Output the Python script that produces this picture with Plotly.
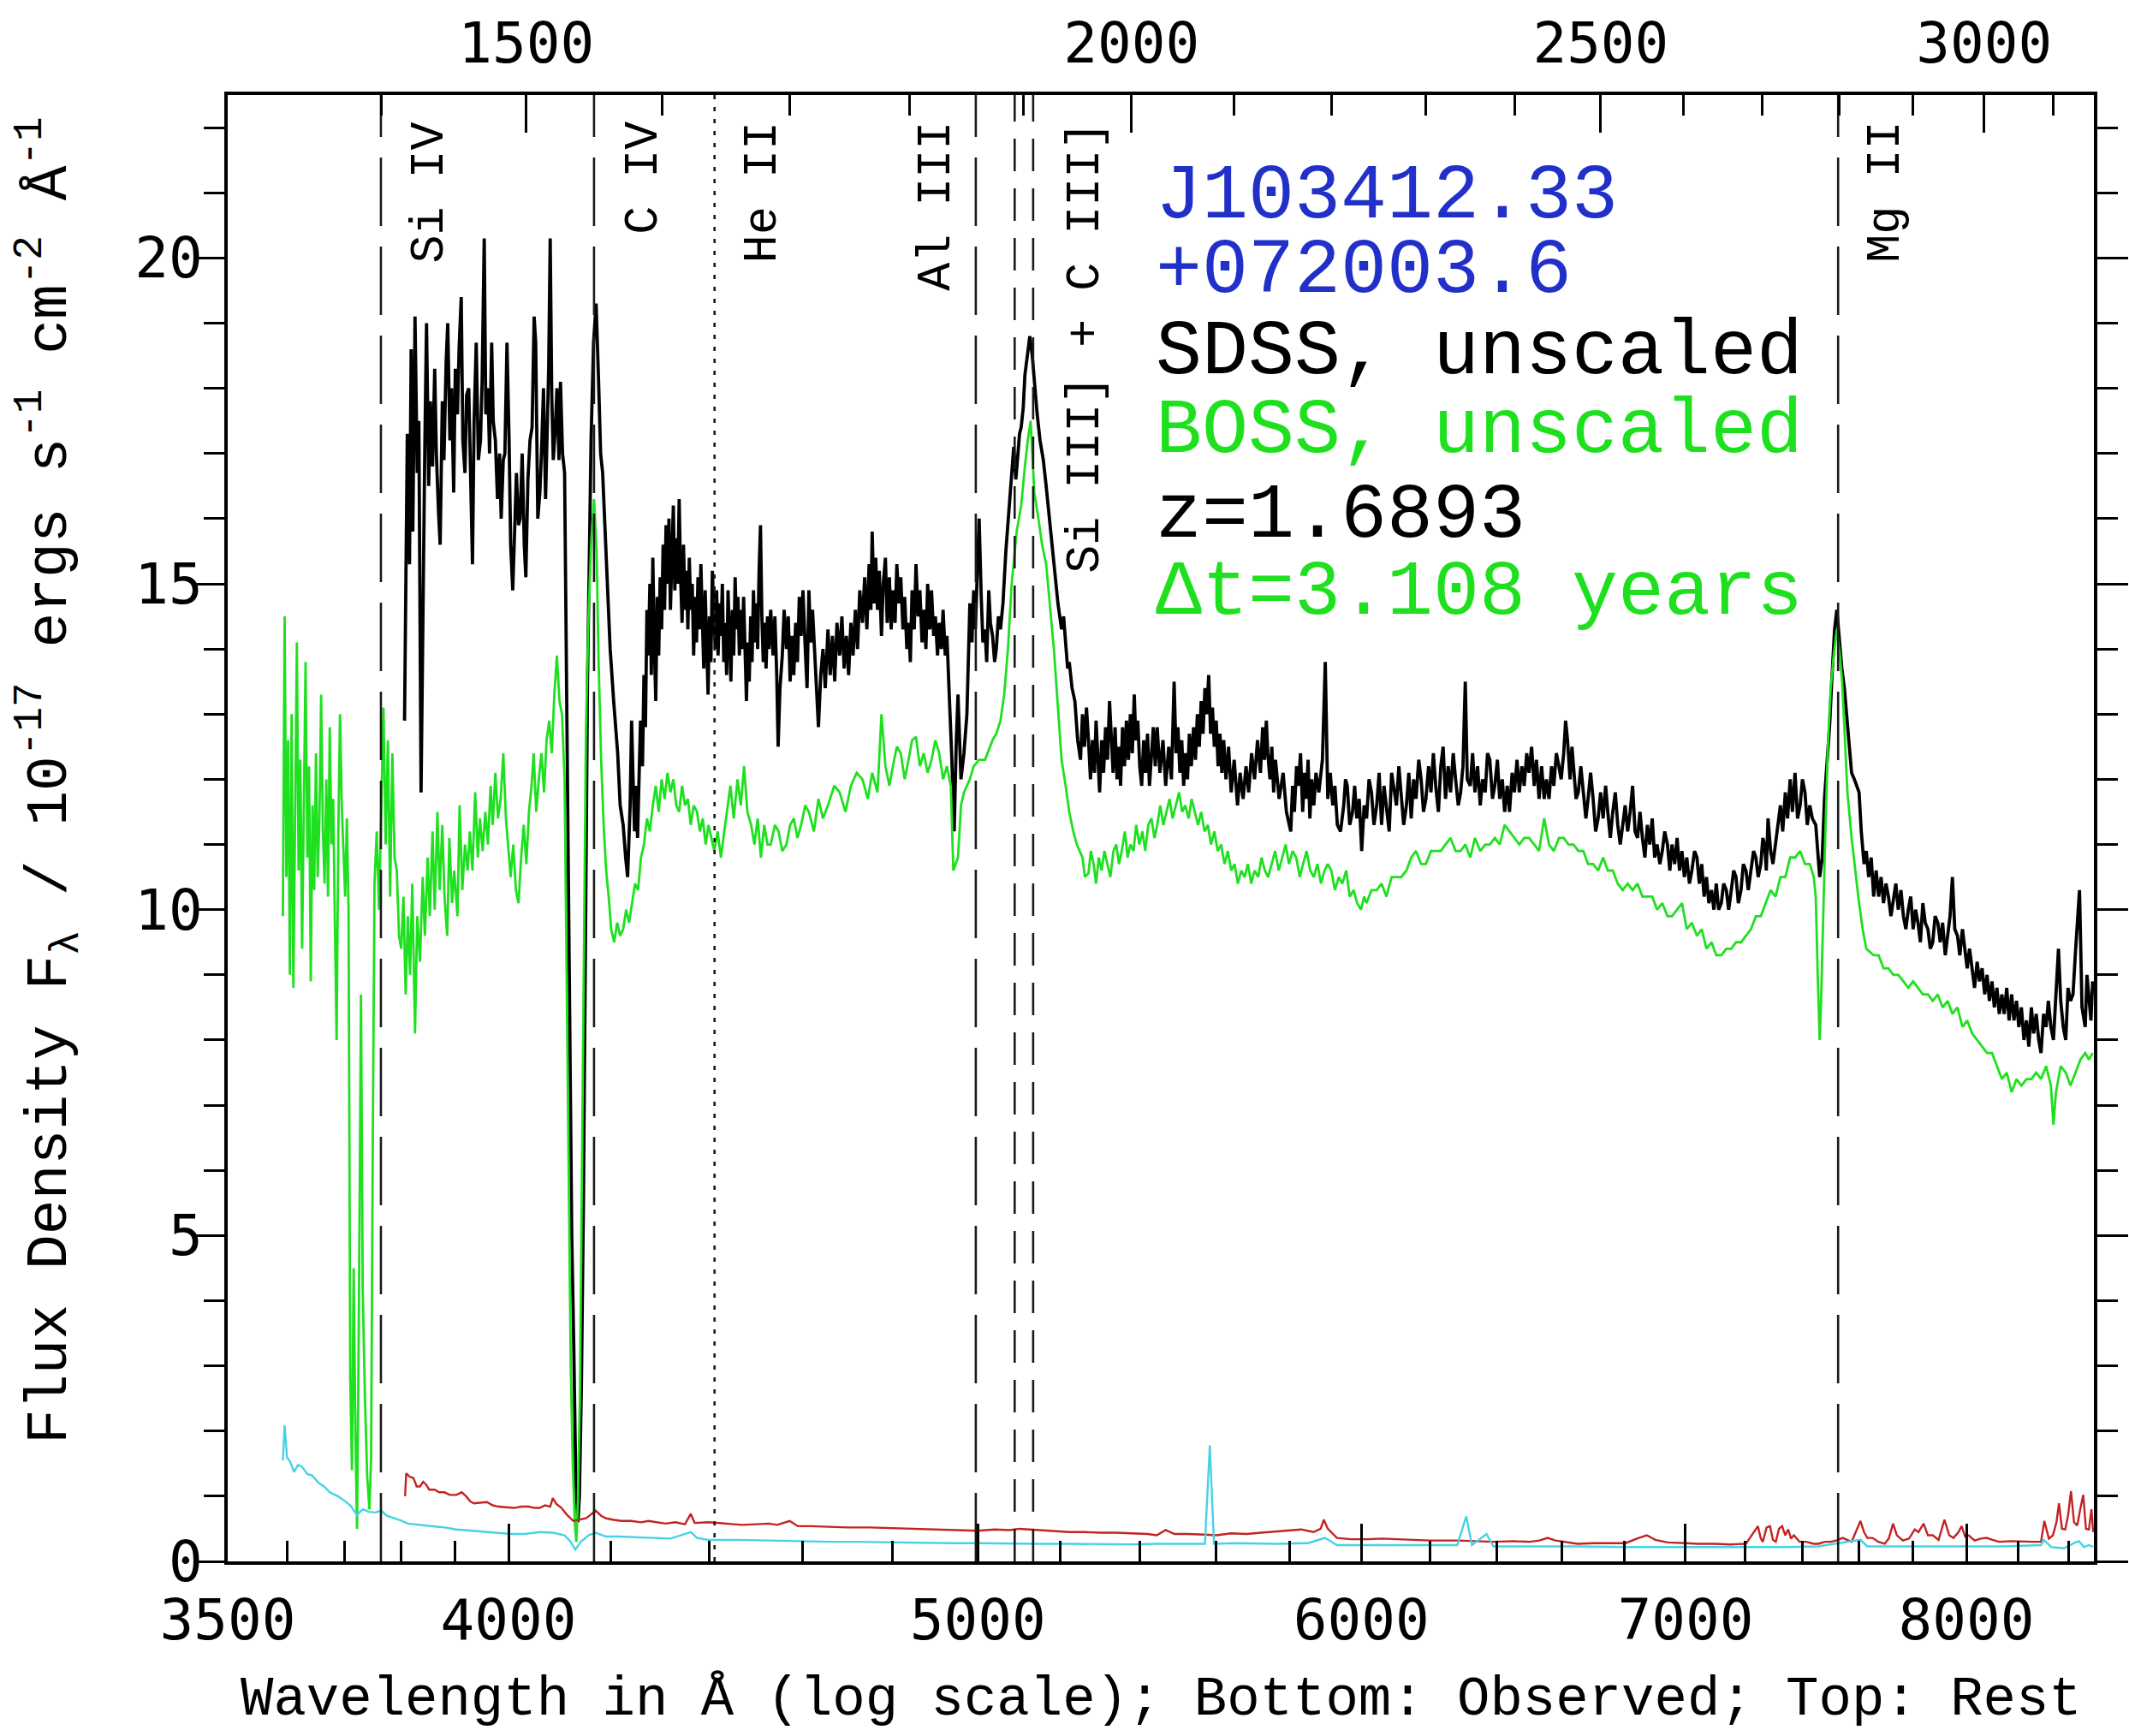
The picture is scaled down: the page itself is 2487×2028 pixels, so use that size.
import math
import plotly.graph_objects as go

# ---------------- data ----------------
z = 1.6893
obs_range = [3500, 8500]
flux_range = [0, 22.5]

x_major = [3500, 4000, 5000, 6000, 7000, 8000]
x_minor = [3600, 3700, 3800, 3900, 4200, 4400, 4600, 4800, 5200, 5400, 5600, 5800,
           6200, 6400, 6600, 6800, 7200, 7400, 7600, 7800, 8200, 8400]
rest_major = [1500, 2000, 2500, 3000]
rest_minor = [1400, 1600, 1700, 1800, 1900, 2100, 2200, 2300, 2400, 2600, 2700, 2800, 2900, 3100]
y_major = [0, 5, 10, 15, 20]
y_minor = [1, 2, 3, 4, 6, 7, 8, 9, 11, 12, 13, 14, 16, 17, 18, 19, 21, 22]

# emission line markers (rest wavelength, linestyle)
marker_rest = [1399.8, 1549.06, 1640.42, 1857.40, 1892.03, 1908.73, 2798.75]
marker_style = ["long", "long", "dot", "long", "short", "short", "long"]
label_names = ["Si IV", "C IV", "He II", "Al III", "Si III] + C III]", "Mg II"]
label_rest = [1399.8, 1549.06, 1640.42, 1857.40, 1908.73, 2798.75]

info_lines = ["J103412.33", "+072003.6", "SDSS, unscaled", "BOSS, unscaled", "z=1.6893", "\u0394t=3.108 years"]

# SDSS spectrum (observed wavelength, flux)
sdss_spec = [
    (3807, 12.9), (3810, 16.0), (3812, 17.3), (3816, 15.3), (3819, 18.6), (3822, 15.8), (3826, 19.1),
    (3830, 16.7), (3833, 17.5), (3837, 11.8), (3841, 15.3), (3844, 17.2), (3847, 19.0), (3851, 16.5),
    (3854, 17.8), (3858, 16.8), (3862, 18.3), (3865, 17.0), (3869, 16.1), (3872, 15.6), (3876, 17.8),
    (3879, 16.9), (3883, 18.4), (3886, 19.0), (3890, 17.2), (3893, 18.0), (3897, 16.4), (3900, 18.3),
    (3904, 17.6), (3907, 18.6), (3911, 19.4), (3914, 17.2), (3918, 16.7), (3921, 17.9), (3925, 18.0),
    (3928, 16.8), (3932, 15.3), (3935, 17.5), (3939, 18.7), (3943, 16.9), (3947, 17.2), (3950, 18.1),
    (3954, 20.3), (3957, 17.6), (3961, 18.0), (3964, 17.0), (3968, 18.7), (3971, 17.5), (3975, 17.2),
    (3979, 16.3), (3983, 17.0), (3986, 16.0), (3990, 16.9), (3993, 17.0), (3997, 18.7), (4001, 17.2),
    (4004, 15.6), (4008, 14.9), (4012, 16.0), (4015, 16.7), (4019, 15.9), (4022, 16.0), (4026, 17.0),
    (4030, 15.6), (4033, 15.1), (4037, 16.6), (4041, 17.2), (4045, 17.4), (4049, 19.1), (4052, 18.7),
    (4056, 16.0), (4060, 16.4), (4063, 17.0), (4067, 18.0), (4071, 16.3), (4074, 17.2), (4077, 18.3),
    (4080, 20.3), (4083, 17.9), (4086, 16.9), (4090, 17.4), (4093, 18.0), (4097, 16.9), (4100, 18.1),
    (4104, 17.0), (4108, 16.7), (4111, 14.0), (4115, 11.3), (4119, 8.0), (4122, 5.0), (4126, 3.3),
    (4130, 1.2), (4134, 0.6), (4137, 1.0), (4141, 2.7), (4145, 5.5), (4149, 9.5), (4153, 13.5),
    (4157, 15.6), (4160, 17.2), (4165, 18.7), (4170, 19.3), (4175, 18.1), (4179, 17.0), (4183, 16.7),
    (4190, 15.3), (4198, 14.0), (4205, 13.2), (4213, 12.4), (4218, 11.6), (4224, 11.3), (4229, 10.8),
    (4233, 10.5), (4238, 11.6), (4241, 12.9), (4244, 12.0), (4247, 11.2), (4250, 11.9), (4253, 11.1),
    (4256, 12.0), (4259, 12.9), (4263, 12.2), (4266, 13.6), (4269, 12.8), (4272, 14.6), (4275, 13.9),
    (4278, 15.0), (4281, 13.6), (4284, 15.4), (4287, 14.1), (4290, 13.2), (4293, 14.8), (4296, 13.9),
    (4299, 15.1), (4302, 14.3), (4305, 15.6), (4308, 14.6), (4311, 15.9), (4314, 15.0), (4317, 16.0),
    (4320, 14.6), (4323, 15.4), (4326, 16.2), (4329, 14.9), (4332, 15.7), (4335, 15.0), (4338, 16.3),
    (4341, 15.1), (4344, 14.4), (4347, 15.6), (4350, 14.6), (4353, 15.2), (4356, 14.3), (4359, 15.4),
    (4362, 14.6), (4365, 15.0), (4368, 13.9), (4371, 14.8), (4374, 14.1), (4377, 15.1), (4380, 14.3),
    (4383, 15.3), (4386, 14.6), (4389, 13.7), (4392, 14.9), (4395, 14.0), (4398, 13.3), (4401, 14.5),
    (4404, 13.8), (4407, 15.2), (4410, 14.6), (4413, 14.0), (4416, 14.9), (4419, 13.9), (4422, 14.7),
    (4425, 14.2), (4428, 15.0), (4431, 13.8), (4434, 14.4), (4437, 13.6), (4440, 14.9), (4443, 14.1),
    (4446, 13.5), (4449, 14.6), (4452, 13.9), (4455, 15.1), (4458, 14.3), (4461, 14.8), (4464, 13.9),
    (4467, 14.6), (4470, 14.0), (4473, 14.8), (4476, 13.9), (4479, 13.2), (4482, 14.1), (4485, 13.5),
    (4488, 14.5), (4491, 13.8), (4494, 14.9), (4497, 14.1), (4500, 14.7), (4503, 14.0), (4506, 15.2),
    (4509, 15.9), (4512, 14.5), (4515, 13.8), (4518, 14.4), (4521, 13.7), (4524, 14.5), (4527, 14.0),
    (4531, 14.6), (4536, 13.9), (4540, 14.5), (4544, 13.6), (4547, 12.5), (4551, 13.4), (4556, 13.9),
    (4560, 14.6), (4565, 14.0), (4569, 14.5), (4573, 13.5), (4577, 14.2), (4581, 13.6), (4585, 14.4),
    (4589, 13.8), (4593, 14.8), (4597, 14.2), (4601, 14.9), (4606, 14.0), (4610, 13.4), (4614, 14.9),
    (4618, 14.1), (4622, 14.6), (4627, 13.8), (4631, 13.3), (4635, 12.8), (4640, 13.6), (4645, 14.0),
    (4650, 13.4), (4656, 14.3), (4661, 13.6), (4666, 14.2), (4671, 13.5), (4676, 14.4), (4682, 13.9),
    (4687, 14.5), (4692, 13.7), (4697, 14.2), (4702, 13.6), (4707, 14.4), (4712, 13.9), (4717, 14.6),
    (4722, 14.0), (4727, 14.9), (4733, 14.4), (4738, 15.1), (4743, 14.3), (4748, 15.3), (4752, 14.6),
    (4755, 15.8), (4759, 14.7), (4763, 15.4), (4767, 14.6), (4771, 15.2), (4776, 14.2), (4780, 15.0),
    (4785, 15.4), (4789, 14.4), (4794, 15.1), (4798, 14.3), (4802, 14.9), (4807, 14.4), (4811, 15.3),
    (4816, 14.7), (4820, 15.1), (4825, 14.3), (4829, 14.8), (4834, 14.0), (4838, 14.4), (4842, 13.8),
    (4846, 14.9), (4851, 14.3), (4855, 15.3), (4860, 14.5), (4864, 14.9), (4869, 14.1), (4873, 14.6),
    (4878, 14.0), (4882, 15.0), (4887, 14.3), (4891, 14.9), (4896, 14.2), (4900, 14.5), (4905, 13.9),
    (4909, 14.4), (4914, 14.0), (4918, 14.6), (4923, 13.9), (4927, 14.2), (4930, 13.6), (4933, 13.2),
    (4938, 12.4), (4944, 11.2), (4949, 12.6), (4953, 13.3), (4960, 12.0), (4967, 12.4), (4974, 13.0),
    (4981, 14.7), (4986, 14.1), (4990, 14.9), (4994, 14.3), (4997, 15.0), (5003, 16.0), (5008, 14.8),
    (5012, 14.1), (5017, 14.3), (5021, 13.8), (5026, 14.9), (5030, 14.4), (5035, 14.2), (5040, 13.8),
    (5044, 14.0), (5049, 14.5), (5054, 14.3), (5060, 14.7), (5067, 15.5), (5075, 16.1), (5080, 16.6),
    (5086, 17.1), (5091, 16.6), (5095, 16.9), (5100, 17.3), (5104, 17.4), (5109, 17.7), (5113, 18.2),
    (5120, 18.5), (5125, 18.8), (5131, 18.5), (5136, 18.1), (5143, 17.6), (5150, 17.2), (5158, 16.9),
    (5165, 16.5), (5170, 16.2), (5175, 15.8), (5180, 15.6), (5184, 15.3), (5190, 15.0), (5194, 14.7),
    (5203, 14.3), (5208, 14.5), (5213, 14.1), (5218, 13.7), (5222, 13.8), (5229, 13.4), (5236, 13.2),
    (5243, 12.6), (5250, 12.3), (5255, 13.0), (5260, 12.5), (5265, 13.1), (5270, 12.6), (5275, 12.0),
    (5280, 12.6), (5285, 12.1), (5289, 12.9), (5294, 12.2), (5298, 11.8), (5303, 12.6), (5308, 12.1),
    (5313, 12.8), (5318, 12.3), (5323, 13.2), (5327, 12.6), (5332, 12.1), (5337, 12.8), (5342, 12.0),
    (5347, 12.5), (5351, 11.9), (5356, 12.8), (5361, 12.2), (5366, 12.9), (5371, 12.3), (5376, 13.0),
    (5381, 12.4), (5386, 13.3), (5390, 12.6), (5395, 12.9), (5400, 12.2), (5405, 11.9), (5410, 12.6),
    (5415, 12.1), (5420, 12.7), (5425, 11.9), (5430, 12.4), (5435, 12.8), (5440, 12.2), (5445, 12.8),
    (5452, 12.1), (5460, 12.6), (5467, 11.9), (5475, 12.5), (5482, 12.0), (5489, 13.5), (5494, 12.4),
    (5499, 12.8), (5504, 12.1), (5509, 12.6), (5514, 11.9), (5519, 12.4), (5524, 12.0), (5529, 12.7),
    (5534, 12.2), (5540, 12.8), (5545, 12.3), (5550, 13.0), (5555, 12.5), (5560, 13.2), (5565, 12.7),
    (5570, 13.4), (5575, 13.0), (5580, 13.6), (5585, 12.7), (5590, 13.1), (5595, 12.5), (5600, 12.9),
    (5605, 12.2), (5610, 12.7), (5615, 12.1), (5620, 12.6), (5626, 12.0), (5633, 12.5), (5640, 11.8),
    (5648, 12.3), (5657, 11.6), (5664, 12.1), (5672, 11.7), (5680, 12.2), (5687, 11.8), (5695, 12.4),
    (5703, 12.0), (5711, 12.6), (5719, 12.1), (5725, 12.8), (5730, 12.3), (5735, 12.9), (5739, 12.4),
    (5745, 12.0), (5750, 12.5), (5755, 11.8), (5760, 12.3), (5770, 11.7), (5781, 12.1), (5790, 11.5),
    (5802, 11.2), (5807, 11.9), (5812, 11.5), (5818, 12.2), (5823, 11.9), (5829, 12.4), (5835, 11.5),
    (5840, 12.1), (5845, 11.7), (5850, 12.3), (5855, 11.4), (5860, 12.0), (5866, 11.6), (5872, 12.1),
    (5880, 11.8), (5890, 12.3), (5898, 13.8), (5905, 11.7), (5912, 12.1), (5919, 11.6), (5925, 11.9),
    (5932, 11.3), (5941, 11.2), (5950, 11.6), (5955, 12.0), (5960, 11.9), (5967, 11.3), (5975, 11.5),
    (5981, 11.9), (5987, 11.4), (5994, 11.7), (6001, 10.9), (6008, 11.6), (6015, 11.4), (6022, 12.0),
    (6029, 11.8), (6036, 11.3), (6044, 11.6), (6051, 12.1), (6058, 11.3), (6065, 11.9), (6072, 11.6),
    (6080, 11.2), (6087, 12.1), (6094, 11.8), (6101, 11.6), (6108, 12.2), (6115, 11.8), (6122, 11.3),
    (6130, 11.6), (6137, 12.1), (6144, 11.4), (6151, 12.0), (6158, 11.7), (6166, 12.3), (6173, 12.0),
    (6180, 11.5), (6187, 11.7), (6195, 12.2), (6202, 11.8), (6209, 12.4), (6216, 11.9), (6224, 11.5),
    (6231, 12.2), (6238, 12.5), (6245, 11.7), (6253, 12.2), (6260, 11.8), (6268, 12.4), (6275, 12.0),
    (6283, 11.6), (6290, 11.8), (6297, 12.2), (6304, 13.5), (6310, 12.0), (6319, 11.9), (6326, 12.4),
    (6333, 11.8), (6341, 12.2), (6349, 11.6), (6356, 12.0), (6364, 11.8), (6371, 12.4), (6378, 12.3),
    (6386, 11.7), (6393, 11.9), (6401, 12.3), (6408, 11.7), (6416, 12.0), (6423, 11.5), (6431, 11.9),
    (6438, 11.5), (6446, 12.1), (6453, 11.8), (6461, 12.3), (6468, 11.8), (6476, 12.2), (6483, 11.9),
    (6491, 12.4), (6498, 12.1), (6506, 12.5), (6514, 11.9), (6521, 12.3), (6529, 11.7), (6537, 12.2),
    (6545, 11.7), (6552, 12.0), (6560, 11.7), (6568, 12.2), (6575, 11.9), (6583, 12.4), (6591, 12.2),
    (6598, 12.0), (6606, 12.4), (6612, 12.9), (6618, 12.6), (6626, 12.0), (6632, 12.5), (6637, 12.2),
    (6645, 11.7), (6652, 11.8), (6660, 12.2), (6668, 11.8), (6676, 11.4), (6683, 11.7), (6691, 12.1),
    (6699, 11.7), (6707, 11.2), (6715, 11.4), (6723, 11.8), (6731, 11.4), (6739, 11.9), (6746, 11.5),
    (6754, 11.1), (6762, 11.5), (6770, 11.8), (6778, 11.3), (6786, 11.0), (6794, 11.3), (6802, 11.6),
    (6810, 11.2), (6818, 11.5), (6826, 11.9), (6834, 11.2), (6842, 11.1), (6850, 11.5), (6858, 11.1),
    (6866, 10.8), (6874, 11.3), (6882, 11.0), (6890, 11.4), (6898, 10.8), (6906, 11.0), (6915, 10.7),
    (6923, 10.9), (6931, 11.2), (6940, 11.0), (6948, 10.6), (6955, 11.0), (6964, 10.7), (6972, 11.1),
    (6980, 10.6), (6988, 10.9), (6996, 10.5), (7004, 10.8), (7013, 10.4), (7021, 10.6), (7030, 10.9),
    (7038, 10.8), (7046, 10.4), (7054, 10.7), (7062, 10.2), (7070, 10.5), (7078, 10.1), (7087, 10.3),
    (7095, 10.0), (7103, 10.4), (7111, 10.0), (7120, 10.1), (7128, 10.4), (7137, 10.3), (7145, 10.0),
    (7154, 10.3), (7162, 10.6), (7170, 10.5), (7178, 10.1), (7187, 10.3), (7195, 10.7), (7204, 10.6),
    (7212, 10.3), (7221, 10.6), (7230, 10.9), (7238, 10.8), (7246, 10.5), (7255, 10.7), (7262, 11.1),
    (7268, 11.0), (7274, 10.6), (7280, 11.4), (7289, 10.9), (7297, 10.7), (7306, 11.0), (7314, 11.3),
    (7323, 11.6), (7331, 11.2), (7340, 11.8), (7348, 11.4), (7357, 12.0), (7365, 11.5), (7374, 12.1),
    (7383, 11.4), (7392, 11.6), (7400, 12.0), (7409, 11.8), (7417, 11.3), (7426, 11.6), (7435, 11.4),
    (7447, 11.3), (7461, 10.5), (7470, 10.8), (7478, 11.7), (7487, 12.2), (7496, 12.8), (7505, 13.6),
    (7514, 14.3), (7522, 14.6), (7530, 14.2), (7540, 13.7), (7549, 13.4), (7560, 12.8), (7575, 12.1),
    (7585, 12.0), (7602, 11.8), (7610, 11.2), (7620, 10.7), (7628, 10.9), (7637, 10.5), (7646, 10.8),
    (7655, 10.2), (7664, 10.6), (7673, 10.2), (7682, 10.5), (7691, 10.1), (7700, 10.4), (7709, 10.2),
    (7718, 9.9), (7727, 10.2), (7736, 10.4), (7745, 10.0), (7755, 10.3), (7764, 9.9), (7773, 9.7),
    (7782, 10.0), (7791, 10.2), (7800, 9.7), (7809, 10.0), (7818, 9.8), (7827, 9.5), (7836, 10.1),
    (7845, 9.8), (7855, 9.7), (7864, 9.4), (7873, 9.5), (7882, 9.9), (7892, 9.8), (7901, 9.5),
    (7910, 9.8), (7920, 9.3), (7929, 9.6), (7938, 9.9), (7947, 10.5), (7956, 9.7), (7966, 9.6),
    (7975, 9.3), (7985, 9.7), (7994, 9.4), (8003, 9.1), (8012, 9.4), (8022, 9.1), (8031, 8.8),
    (8041, 9.2), (8050, 8.9), (8060, 9.1), (8070, 8.7), (8079, 9.0), (8088, 8.6), (8098, 8.9),
    (8107, 8.5), (8117, 8.8), (8126, 8.4), (8136, 8.7), (8145, 8.4), (8155, 8.8), (8164, 8.3),
    (8174, 8.7), (8183, 8.3), (8193, 8.6), (8202, 8.2), (8212, 8.5), (8222, 8.0), (8232, 8.3),
    (8241, 7.9), (8251, 8.5), (8260, 8.1), (8270, 8.4), (8280, 8.0), (8289, 7.8), (8299, 8.4),
    (8309, 8.2), (8318, 8.6), (8328, 8.2), (8338, 8.0), (8348, 8.7), (8358, 9.4), (8367, 8.6),
    (8377, 8.2), (8387, 8.0), (8396, 8.8), (8406, 8.6), (8416, 8.7), (8425, 9.3), (8436, 10.0),
    (8442, 10.3), (8452, 8.5), (8465, 8.2), (8472, 9.0), (8480, 8.7), (8488, 8.3), (8495, 8.9),
]

# BOSS spectrum (observed wavelength, flux)
boss_spec = [
    (3593, 9.9), (3596, 14.5), (3599, 10.5), (3602, 12.6), (3605, 9.0), (3608, 13.0), (3611, 8.8),
    (3614, 12.0), (3617, 14.1), (3620, 10.6), (3623, 12.3), (3626, 9.4), (3629, 11.5), (3632, 13.8),
    (3635, 10.8), (3638, 12.2), (3641, 8.9), (3644, 11.6), (3647, 10.3), (3650, 12.4), (3653, 10.5),
    (3656, 11.4), (3659, 13.3), (3662, 11.2), (3665, 10.4), (3668, 12.0), (3671, 10.2), (3674, 12.8),
    (3677, 11.0), (3680, 11.7), (3683, 9.8), (3686, 8.0), (3689, 11.2), (3692, 13.0), (3695, 11.6),
    (3698, 10.9), (3701, 10.2), (3704, 11.4), (3707, 10.0), (3710, 2.8), (3713, 1.4), (3716, 4.5),
    (3719, 2.0), (3722, 0.5), (3725, 3.5), (3729, 8.7), (3732, 4.2), (3736, 2.5), (3740, 1.3),
    (3744, 0.8), (3747, 1.6), (3750, 6.5), (3753, 10.4), (3757, 11.2), (3761, 10.0), (3765, 11.5),
    (3769, 13.1), (3773, 11.0), (3777, 12.6), (3781, 10.2), (3785, 12.4), (3789, 10.8), (3793, 10.6),
    (3797, 9.6), (3801, 9.4), (3805, 10.2), (3809, 8.7), (3813, 9.9), (3817, 9.0), (3821, 10.4),
    (3826, 8.1), (3830, 9.9), (3835, 9.2), (3840, 10.5), (3844, 9.6), (3849, 10.8), (3853, 9.9),
    (3858, 11.2), (3862, 10.0), (3867, 11.5), (3871, 10.3), (3876, 11.3), (3880, 10.2), (3885, 9.6),
    (3889, 11.1), (3894, 10.1), (3898, 10.6), (3904, 9.9), (3908, 11.6), (3913, 10.3), (3918, 11.0),
    (3923, 10.6), (3927, 11.2), (3932, 10.6), (3937, 11.8), (3942, 10.8), (3946, 11.4), (3951, 10.9),
    (3956, 11.5), (3961, 11.0), (3966, 11.9), (3970, 11.3), (3975, 12.1), (3980, 11.4), (3985, 11.7),
    (3990, 12.4), (3995, 11.4), (4000, 10.9), (4004, 10.5), (4009, 11.0), (4014, 10.3), (4019, 10.1),
    (4024, 10.8), (4029, 11.3), (4034, 10.7), (4039, 11.5), (4044, 11.9), (4048, 12.4), (4053, 11.5),
    (4058, 12.0), (4063, 12.4), (4068, 11.8), (4073, 12.6), (4078, 12.9), (4083, 12.4), (4088, 13.3),
    (4093, 13.9), (4098, 13.2), (4103, 13.0), (4108, 12.0), (4112, 9.0), (4116, 5.5), (4120, 3.0),
    (4124, 1.5), (4128, 0.6), (4131, 0.3), (4134, 0.9), (4138, 2.5), (4142, 5.8), (4146, 9.5),
    (4150, 12.8), (4155, 14.5), (4160, 15.6), (4166, 16.3), (4171, 15.5), (4175, 13.8), (4180, 12.3),
    (4185, 11.3), (4190, 10.6), (4195, 10.2), (4200, 9.7), (4206, 9.5), (4212, 9.8), (4218, 9.6),
    (4224, 9.7), (4230, 10.0), (4236, 9.8), (4242, 10.1), (4248, 10.4), (4254, 10.3), (4260, 10.8),
    (4266, 11.0), (4272, 11.4), (4278, 11.2), (4284, 11.6), (4290, 11.9), (4296, 11.5), (4302, 12.0),
    (4308, 11.7), (4314, 12.1), (4320, 11.8), (4326, 12.0), (4332, 11.6), (4338, 11.5), (4344, 11.9),
    (4350, 11.6), (4356, 11.7), (4362, 11.3), (4368, 11.6), (4375, 11.5), (4381, 11.2), (4387, 11.4),
    (4393, 11.0), (4399, 11.3), (4405, 11.1), (4411, 10.9), (4418, 11.2), (4425, 10.8), (4432, 11.2),
    (4438, 11.5), (4445, 11.9), (4452, 11.4), (4460, 12.0), (4467, 11.6), (4474, 12.2), (4481, 11.5),
    (4489, 11.3), (4496, 11.0), (4503, 11.4), (4510, 10.8), (4517, 11.3), (4524, 11.0), (4531, 11.0),
    (4540, 11.3), (4548, 11.2), (4556, 10.9), (4565, 11.0), (4573, 11.3), (4581, 11.4), (4589, 11.1),
    (4597, 11.3), (4606, 11.6), (4614, 11.5), (4625, 11.2), (4635, 11.7), (4645, 11.4), (4656, 11.6),
    (4670, 11.9), (4682, 11.8), (4695, 11.5), (4707, 11.9), (4720, 12.1), (4733, 12.0), (4745, 11.7),
    (4755, 12.1), (4767, 11.8), (4776, 13.0), (4785, 12.2), (4794, 11.9), (4802, 12.2), (4811, 12.5),
    (4820, 12.4), (4829, 12.0), (4838, 12.3), (4846, 12.6), (4855, 12.65), (4864, 12.2), (4873, 12.4),
    (4882, 12.1), (4891, 12.3), (4900, 12.6), (4909, 12.4), (4918, 12.0), (4927, 12.2), (4936, 11.9),
    (4942, 10.6), (4948, 10.7), (4953, 10.8), (4960, 11.6), (4967, 11.8), (4981, 12.0), (4990, 12.2),
    (5003, 12.3), (5017, 12.3), (5035, 12.6), (5044, 12.7), (5054, 12.9), (5063, 13.3), (5072, 14.0),
    (5081, 15.0), (5093, 15.8), (5104, 16.2), (5113, 16.8), (5120, 17.2), (5127, 17.5), (5131, 17.0),
    (5136, 16.4), (5146, 16.0), (5155, 15.6), (5165, 15.3), (5175, 14.6), (5184, 14.0), (5194, 13.1),
    (5203, 12.3), (5213, 11.9), (5222, 11.5), (5232, 11.2), (5241, 11.0), (5255, 10.8), (5261, 10.5),
    (5270, 10.56), (5276, 10.9), (5283, 10.7), (5289, 10.4), (5296, 10.8), (5303, 10.6), (5310, 10.9),
    (5318, 10.7), (5325, 10.5), (5333, 10.9), (5340, 11.0), (5347, 10.7), (5354, 10.9), (5362, 11.2),
    (5369, 10.8), (5376, 11.0), (5384, 10.9), (5391, 11.3), (5399, 11.0), (5407, 11.2), (5414, 10.9),
    (5422, 11.3), (5430, 11.4), (5438, 11.1), (5445, 11.3), (5453, 11.6), (5461, 11.3), (5469, 11.5),
    (5477, 11.7), (5485, 11.4), (5494, 11.6), (5502, 11.8), (5510, 11.5), (5518, 11.6), (5527, 11.4),
    (5535, 11.7), (5543, 11.5), (5552, 11.3), (5560, 11.5), (5569, 11.2), (5578, 11.3), (5586, 11.0),
    (5595, 11.2), (5604, 10.9), (5613, 11.0), (5622, 10.7), (5631, 10.9), (5640, 10.6), (5649, 10.7),
    (5658, 10.4), (5667, 10.6), (5676, 10.5), (5685, 10.7), (5694, 10.4), (5703, 10.6), (5713, 10.5),
    (5722, 10.8), (5731, 10.6), (5740, 10.5), (5750, 10.7), (5759, 10.9), (5769, 10.6), (5778, 10.8),
    (5788, 11.0), (5797, 10.7), (5807, 10.9), (5817, 10.8), (5827, 10.5), (5836, 10.7), (5846, 10.9),
    (5856, 10.6), (5866, 10.5), (5876, 10.7), (5886, 10.4), (5896, 10.6), (5905, 10.7), (5915, 10.6),
    (5925, 10.3), (5936, 10.5), (5946, 10.4), (5957, 10.6), (5967, 10.2), (5978, 10.3), (5988, 10.1),
    (5999, 10.0), (6008, 10.2), (6015, 10.1), (6029, 10.3), (6044, 10.3), (6058, 10.4), (6072, 10.2),
    (6087, 10.5), (6101, 10.5), (6115, 10.5), (6130, 10.6), (6144, 10.8), (6158, 10.9), (6173, 10.7),
    (6187, 10.7), (6202, 10.9), (6216, 10.9), (6231, 10.9), (6245, 11.0), (6260, 11.1), (6275, 10.9),
    (6290, 10.9), (6304, 11.0), (6319, 10.8), (6333, 11.1), (6349, 10.9), (6364, 11.0), (6378, 11.0),
    (6393, 11.1), (6408, 11.0), (6423, 11.3), (6438, 11.2), (6453, 11.1), (6468, 11.0), (6483, 11.1),
    (6498, 11.1), (6514, 11.0), (6529, 10.9), (6545, 11.4), (6560, 11.0), (6575, 10.9), (6591, 11.1),
    (6606, 11.1), (6621, 11.0), (6637, 11.0), (6652, 10.9), (6668, 10.9), (6683, 10.7), (6699, 10.7),
    (6715, 10.6), (6731, 10.8), (6746, 10.6), (6762, 10.6), (6778, 10.4), (6794, 10.3), (6810, 10.4),
    (6826, 10.3), (6842, 10.4), (6858, 10.2), (6874, 10.2), (6890, 10.2), (6906, 10.0), (6923, 10.1),
    (6940, 9.9), (6955, 9.9), (6972, 10.0), (6988, 10.1), (7004, 9.7), (7021, 9.8), (7038, 9.6),
    (7054, 9.7), (7070, 9.4), (7087, 9.5), (7103, 9.3), (7120, 9.3), (7137, 9.4), (7154, 9.4),
    (7170, 9.5), (7187, 9.5), (7204, 9.6), (7221, 9.7), (7238, 9.9), (7255, 9.9), (7272, 10.1),
    (7289, 10.3), (7306, 10.2), (7323, 10.5), (7340, 10.5), (7357, 10.8), (7374, 10.8), (7392, 10.9),
    (7409, 10.7), (7426, 10.7), (7440, 10.5), (7447, 10.2), (7454, 9.0), (7461, 8.0), (7466, 8.6),
    (7470, 9.4), (7480, 11.0), (7490, 12.5), (7500, 13.4), (7511, 13.9), (7522, 14.3), (7533, 13.9),
    (7541, 13.5), (7549, 12.8), (7560, 11.8), (7575, 11.1), (7590, 10.5), (7602, 10.1), (7615, 9.7),
    (7628, 9.4), (7655, 9.3), (7673, 9.3), (7691, 9.1), (7709, 9.1), (7727, 9.0), (7745, 9.0),
    (7764, 8.9), (7782, 8.8), (7800, 8.9), (7818, 8.8), (7836, 8.7), (7855, 8.7), (7873, 8.6),
    (7892, 8.7), (7910, 8.5), (7929, 8.6), (7947, 8.4), (7966, 8.5), (7985, 8.2), (8003, 8.3),
    (8022, 8.1), (8041, 8.0), (8060, 7.9), (8079, 7.8), (8098, 7.8), (8117, 7.6), (8136, 7.4),
    (8155, 7.5), (8174, 7.2), (8193, 7.4), (8212, 7.3), (8232, 7.4), (8251, 7.4), (8270, 7.5),
    (8289, 7.4), (8309, 7.6), (8328, 7.3), (8338, 6.7), (8348, 7.2), (8367, 7.6), (8387, 7.5),
    (8406, 7.3), (8425, 7.5), (8446, 7.7), (8465, 7.8), (8480, 7.7), (8495, 7.8),
]

# SDSS error spectrum
sdss_err = [
    (3808, 1.0), (3810, 1.35), (3816, 1.3), (3823, 1.28), (3829, 1.15), (3835, 1.15), (3841, 1.22),
    (3846, 1.18), (3852, 1.1), (3862, 1.1), (3870, 1.06), (3880, 1.06), (3890, 1.02), (3902, 1.02),
    (3912, 1.06), (3920, 1.0), (3928, 0.92), (3935, 0.89), (3945, 0.9), (3959, 0.91), (3970, 0.86),
    (3981, 0.84), (3995, 0.83), (4010, 0.82), (4025, 0.84), (4038, 0.84), (4050, 0.82), (4060, 0.82),
    (4070, 0.86), (4080, 0.84), (4085, 0.97), (4092, 0.88), (4102, 0.82), (4112, 0.72), (4125, 0.62),
    (4135, 0.64), (4150, 0.66), (4160, 0.72), (4169, 0.78), (4180, 0.7), (4190, 0.66), (4203, 0.64),
    (4220, 0.62), (4240, 0.62), (4260, 0.6), (4275, 0.62), (4290, 0.6), (4310, 0.58), (4330, 0.6),
    (4350, 0.57), (4362, 0.73), (4370, 0.59), (4399, 0.6), (4430, 0.58), (4470, 0.56), (4500, 0.57),
    (4527, 0.58), (4545, 0.56), (4572, 0.62), (4590, 0.54), (4620, 0.54), (4658, 0.53), (4700, 0.52),
    (4750, 0.52), (4794, 0.51), (4850, 0.5), (4900, 0.49), (4933, 0.48), (4980, 0.47), (5000, 0.47),
    (5040, 0.49), (5076, 0.48), (5100, 0.5), (5130, 0.49), (5170, 0.47), (5223, 0.45), (5260, 0.45),
    (5300, 0.44), (5340, 0.44), (5375, 0.43), (5420, 0.42), (5444, 0.4), (5467, 0.48), (5490, 0.42),
    (5523, 0.42), (5570, 0.41), (5600, 0.4), (5640, 0.43), (5682, 0.42), (5720, 0.44), (5764, 0.46),
    (5800, 0.47), (5831, 0.49), (5865, 0.45), (5885, 0.5), (5894, 0.64), (5905, 0.5), (5931, 0.36),
    (5970, 0.34), (6017, 0.34), (6060, 0.35), (6104, 0.34), (6150, 0.33), (6200, 0.32), (6280, 0.32),
    (6330, 0.31), (6389, 0.3), (6450, 0.31), (6500, 0.3), (6530, 0.32), (6556, 0.36), (6580, 0.32),
    (6650, 0.27), (6700, 0.28), (6750, 0.28), (6803, 0.28), (6840, 0.35), (6872, 0.4), (6900, 0.33),
    (6941, 0.29), (7000, 0.28), (7041, 0.27), (7100, 0.27), (7150, 0.26), (7204, 0.27), (7245, 0.54),
    (7255, 0.35), (7262, 0.3), (7275, 0.52), (7287, 0.54), (7297, 0.33), (7307, 0.3), (7318, 0.5),
    (7329, 0.54), (7340, 0.4), (7350, 0.49), (7360, 0.35), (7370, 0.4), (7390, 0.3), (7413, 0.3),
    (7440, 0.27), (7456, 0.27), (7480, 0.3), (7500, 0.3), (7520, 0.32), (7543, 0.36), (7575, 0.3),
    (7607, 0.62), (7620, 0.45), (7632, 0.36), (7651, 0.36), (7672, 0.3), (7695, 0.27), (7710, 0.35),
    (7726, 0.58), (7740, 0.4), (7762, 0.32), (7785, 0.35), (7806, 0.49), (7820, 0.45), (7839, 0.58),
    (7855, 0.4), (7873, 0.4), (7895, 0.33), (7917, 0.64), (7935, 0.4), (7951, 0.36), (7970, 0.45),
    (7982, 0.54), (7995, 0.38), (8009, 0.4), (8031, 0.32), (8055, 0.35), (8077, 0.36), (8100, 0.33),
    (8125, 0.3), (8170, 0.31), (8218, 0.3), (8260, 0.3), (8289, 0.3), (8302, 0.62), (8320, 0.35),
    (8336, 0.4), (8350, 0.6), (8360, 0.89), (8372, 0.5), (8385, 0.49), (8396, 0.7), (8408, 1.08),
    (8420, 0.6), (8433, 0.55), (8445, 0.8), (8457, 1.02), (8468, 0.5), (8480, 0.49), (8490, 0.8),
    (8497, 0.45),
]

# BOSS error spectrum
boss_err = [
    (3593, 1.55), (3596, 2.09), (3600, 1.6), (3606, 1.52), (3612, 1.37), (3619, 1.48), (3626, 1.45),
    (3635, 1.34), (3643, 1.32), (3655, 1.2), (3664, 1.15), (3674, 1.06), (3688, 1.0), (3700, 0.93),
    (3711, 0.85), (3722, 0.71), (3732, 0.8), (3743, 0.76), (3755, 0.75), (3765, 0.78), (3775, 0.7),
    (3786, 0.67), (3800, 0.63), (3813, 0.58), (3835, 0.56), (3857, 0.54), (3880, 0.52), (3902, 0.49),
    (3925, 0.47), (3947, 0.46), (3975, 0.44), (4004, 0.42), (4030, 0.42), (4061, 0.45), (4085, 0.44),
    (4108, 0.4), (4120, 0.3), (4129, 0.18), (4140, 0.3), (4155, 0.4), (4169, 0.44), (4190, 0.38),
    (4215, 0.38), (4245, 0.37), (4275, 0.36), (4320, 0.35), (4362, 0.45), (4375, 0.36), (4399, 0.33),
    (4460, 0.33), (4527, 0.32), (4590, 0.31), (4658, 0.3), (4720, 0.3), (4794, 0.29), (4860, 0.28),
    (4933, 0.28), (5000, 0.28), (5076, 0.27), (5150, 0.27), (5223, 0.27), (5300, 0.26), (5375, 0.26),
    (5444, 0.27), (5523, 0.27), (5570, 0.27), (5583, 1.78), (5594, 0.27), (5650, 0.28), (5764, 0.27),
    (5850, 0.28), (5897, 0.36), (5931, 0.25), (6017, 0.25), (6104, 0.25), (6200, 0.25), (6280, 0.25),
    (6307, 0.69), (6324, 0.25), (6368, 0.42), (6389, 0.23), (6500, 0.23), (6650, 0.23), (6800, 0.22),
    (6941, 0.22), (7041, 0.22), (7150, 0.22), (7245, 0.22), (7350, 0.22), (7456, 0.23), (7607, 0.33),
    (7632, 0.23), (7760, 0.23), (7895, 0.23), (8031, 0.23), (8150, 0.23), (8289, 0.25), (8300, 0.33),
    (8330, 0.22), (8380, 0.2), (8420, 0.28), (8440, 0.31), (8460, 0.22), (8480, 0.25), (8497, 0.22),
]

# ---------------- styling ----------------
BLACK = "#000000"
GREEN = "#1fe01f"
BLUE = "#2030c8"
RED = "#c42222"
CYAN = "#45d3e3"
TEXT_FONT = "Liberation Mono"
TICK_FONT = "DejaVu Sans Mono"
DASHES = {"long": "80px,24px", "short": "38px,20px", "dot": "5px,9px"}

W, H = 2487, 2028
ML, MR, MT, MB = 266, 41, 111, 204
PW, PH = W - ML - MR, H - MT - MB


def unzip(pairs):
    return [p[0] for p in pairs], [p[1] for p in pairs]


fig = go.Figure()

for series, color, width in [(sdss_spec, BLACK, 3.8), (boss_spec, GREEN, 2.8),
                             (sdss_err, RED, 2.4), (boss_err, CYAN, 2.4)]:
    xs, ys = unzip(series)
    fig.add_trace(go.Scatter(x=xs, y=ys, mode="lines", line=dict(color=color, width=width),
                             hoverinfo="skip", showlegend=False))

# emission line markers on the rest-frame (top) axis
for rest, style in zip(marker_rest, marker_style):
    fig.add_trace(go.Scatter(x=[rest, rest], y=flux_range, mode="lines", xaxis="x2", yaxis="y",
                             line=dict(color="#1a1a1a", width=2.6, dash=DASHES[style]),
                             hoverinfo="skip", showlegend=False))

label_shift = [57, 59, 57, -45, 62, 56]
annotations = []
for name, rest, sh in zip(label_names, label_rest, label_shift):
    annotations.append(dict(x=math.log10(rest), y=22.12, xref="x2", yref="y", text=name,
                            textangle=-90, showarrow=False, xanchor="center", yanchor="top",
                            xshift=sh, font=dict(family=TEXT_FONT, size=55, color=BLACK)))

info_colors = [BLUE, BLUE, BLACK, GREEN, BLACK, GREEN]
info_y_px = [230, 317, 412, 504, 603, 693]
for txt, col, ypx in zip(info_lines, info_colors, info_y_px):
    annotations.append(dict(x=(1348 - ML) / PW, y=(MT + PH - ypx) / PH, xref="paper", yref="paper",
                            text=txt, showarrow=False, xanchor="left", yanchor="middle",
                            font=dict(family=TEXT_FONT, size=90, color=col)))

annotations.append(dict(x=0.5, y=(MT + PH - 1986) / PH, xref="paper", yref="paper",
                        text="Wavelength in \u00c5 (log scale); Bottom: Observed; Top: Rest",
                        showarrow=False, xanchor="center", yanchor="middle",
                        font=dict(family=TEXT_FONT, size=64, color=BLACK)))
annotations.append(dict(x=(56 - ML) / PW, y=(MT + PH - 912) / PH, xref="paper", yref="paper",
                        text="Flux Density F<sub>\u03bb</sub> / 10<sup>-17</sup> ergs s<sup>-1</sup> "
                             "cm<sup>-2</sup> \u00c5<sup>-1</sup>",
                        textangle=-90, showarrow=False, xanchor="center", yanchor="middle",
                        font=dict(family=TEXT_FONT, size=68, color=BLACK)))

tickfont = dict(family=TICK_FONT, size=66, color=BLACK)
fig.update_layout(
    template="none",
    width=W, height=H,
    margin=dict(l=ML, r=MR, t=MT, b=MB, autoexpand=False),
    paper_bgcolor="white", plot_bgcolor="white",
    showlegend=False,
    annotations=annotations,
    xaxis=dict(type="log", range=[math.log10(obs_range[0]), math.log10(obs_range[1])],
               automargin=False,
               tickmode="array", tickvals=x_major, ticktext=[str(v) for v in x_major],
               ticks="inside", ticklen=44, tickwidth=3, tickcolor=BLACK,
               minor=dict(tickmode="array", tickvals=x_minor, ticks="inside", ticklen=24,
                          tickwidth=3, tickcolor=BLACK, showgrid=False),
               showline=True, linewidth=4, linecolor=BLACK, mirror=False,
               showgrid=False, zeroline=False, tickfont=tickfont, ticklabelstandoff=8),
    xaxis2=dict(type="log", overlaying="x", side="top", anchor="y", automargin=False,
                range=[math.log10(obs_range[0] / (1 + z)), math.log10(obs_range[1] / (1 + z))],
                tickmode="array", tickvals=rest_major, ticktext=[str(v) for v in rest_major],
                ticks="inside", ticklen=44, tickwidth=3, tickcolor=BLACK,
                minor=dict(tickmode="array", tickvals=rest_minor, ticks="inside", ticklen=24,
                           tickwidth=3, tickcolor=BLACK, showgrid=False),
                showline=True, linewidth=4, linecolor=BLACK,
                showgrid=False, zeroline=False, tickfont=tickfont, ticklabelstandoff=8),
    yaxis=dict(range=flux_range, tickmode="array", tickvals=y_major, automargin=False,
               ticktext=[str(v) for v in y_major],
               ticks="outside", ticklen=36, tickwidth=3, tickcolor=BLACK,
               minor=dict(tickmode="array", tickvals=y_minor, ticks="outside", ticklen=24,
                          tickwidth=3, tickcolor=BLACK, showgrid=False),
               showline=True, linewidth=4, linecolor=BLACK, mirror="ticks",
               showgrid=False, zeroline=False, tickfont=tickfont, ticklabelstandoff=-24),
)

fig.write_html("out.html")
